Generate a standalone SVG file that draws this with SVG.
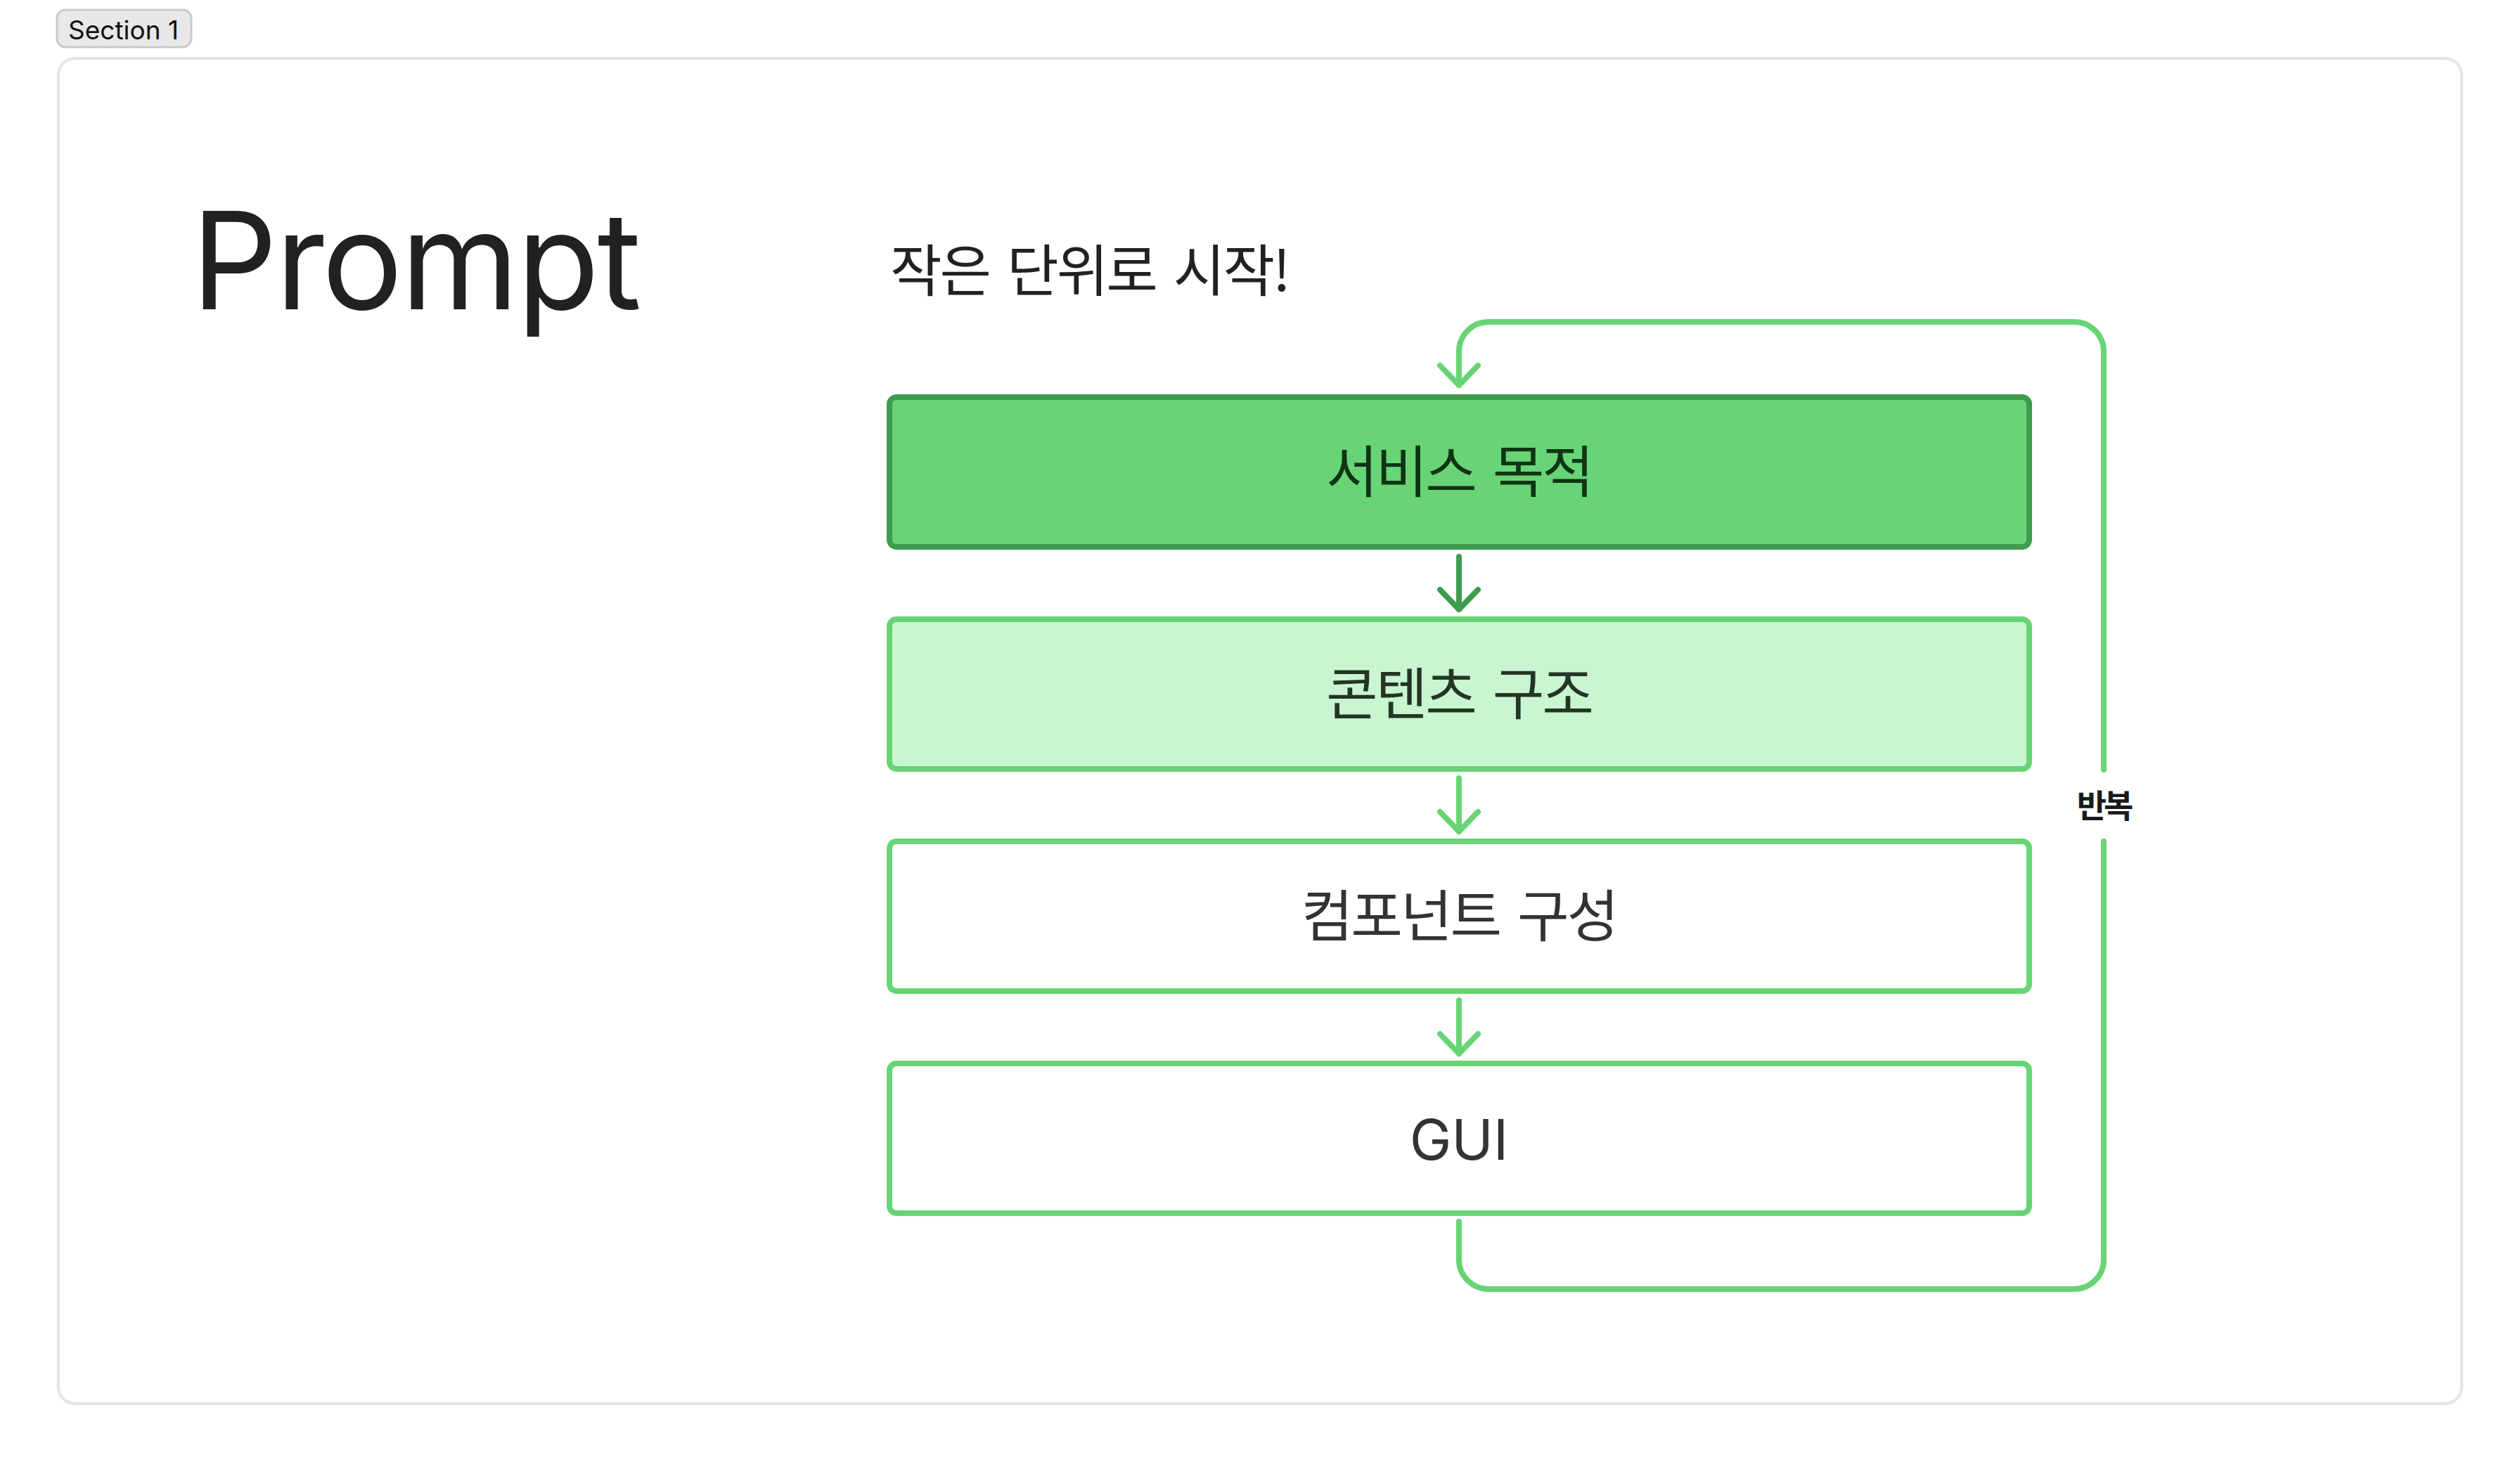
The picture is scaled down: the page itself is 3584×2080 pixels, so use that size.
<svg xmlns="http://www.w3.org/2000/svg" width="3584" height="2080" viewBox="0 0 3584 2080">
<style>
.lat{font-family:Inter,"Noto Sans","Noto Sans CJK KR",sans-serif}
.kr{font-family:"Noto Sans CJK KR","Noto Sans",sans-serif;font-size:80px;letter-spacing:-3px;word-spacing:10px}
.box{stroke-width:8}
.conn{fill:none;stroke-width:8;stroke-linecap:round;stroke-linejoin:round}
.lt{stroke:#68d475}
.dk{stroke:#3e9c4c}
</style>
<defs>
<marker id="ahL" viewBox="-40 -35 50 70" markerWidth="50" markerHeight="70" refX="0" refY="0" orient="auto" markerUnits="userSpaceOnUse">
<path d="M-28,-27 L0,0 L-28,27" fill="none" stroke="#68d475" stroke-width="8" stroke-linecap="round" stroke-linejoin="round"/>
</marker>
<marker id="ahD" viewBox="-40 -35 50 70" markerWidth="50" markerHeight="70" refX="0" refY="0" orient="auto" markerUnits="userSpaceOnUse">
<path d="M-28,-27 L0,0 L-28,27" fill="none" stroke="#3e9c4c" stroke-width="8" stroke-linecap="round" stroke-linejoin="round"/>
</marker>
</defs>
<rect width="3584" height="2080" fill="#ffffff"/>
<g id="section-badge">
<rect x="81" y="14" width="191" height="53" rx="12" fill="#e8e8e8" stroke="#c9c9c9" stroke-width="3"/>
<text x="97" y="56" class="lat" font-size="37" fill="#111111">Section 1</text>
</g>
<g id="frame">
<rect x="83" y="83" width="3418" height="1914" rx="24" fill="#ffffff" stroke="#e5e5e5" stroke-width="4"/>
</g>
<g id="title">
<text x="272" y="440" class="lat" font-size="192" letter-spacing="-3" fill="#212121">Prompt</text>
</g>
<g id="subtitle">
<text x="1266" y="414" class="kr" fill="#212121">작은 단위로 시작!</text>
</g>
<g id="connectors">
<path class="conn lt" d="M2075,1738 V1792 A42,42 0 0 0 2117,1834 H2950 A42,42 0 0 0 2992,1792 V1197" />
<path class="conn lt" d="M2992,1095 V500 A42,42 0 0 0 2950,458 H2117 A42,42 0 0 0 2075,500 V548" marker-end="url(#ahL)"/>
<path class="conn dk" d="M2075,792 V867" marker-end="url(#ahD)"/>
<path class="conn lt" d="M2075,1107 V1183" marker-end="url(#ahL)"/>
<path class="conn lt" d="M2075,1423 V1499" marker-end="url(#ahL)"/>
<text x="2992" y="1163" text-anchor="middle" font-family="'Noto Sans CJK KR',sans-serif" font-weight="700" font-size="46" letter-spacing="-4" fill="#1a1a1a">반복</text>
</g>
<g id="node-service">
<rect class="box" x="1265" y="565" width="1621" height="213" rx="10" fill="#68d475" stroke="#3e9c4c"/>
<text x="2075" y="700" text-anchor="middle" class="kr" fill="#0e3414">서비스 목적</text>
</g>
<g id="node-content">
<rect class="box" x="1265" y="881" width="1621" height="213" rx="10" fill="#c9f5d1" stroke="#68d475"/>
<text x="2075" y="1016" text-anchor="middle" class="kr" fill="#233624">콘텐츠 구조</text>
</g>
<g id="node-component">
<rect class="box" x="1265" y="1197" width="1621" height="213" rx="10" fill="#ffffff" stroke="#68d475"/>
<text x="2075" y="1332" text-anchor="middle" class="kr" fill="#333333">컴포넌트 구성</text>
</g>
<g id="node-gui">
<rect class="box" x="1265" y="1513" width="1621" height="213" rx="10" fill="#ffffff" stroke="#68d475"/>
<text x="2075" y="1650" text-anchor="middle" class="lat" font-size="80" fill="#333333">GUI</text>
</g>
</svg>
